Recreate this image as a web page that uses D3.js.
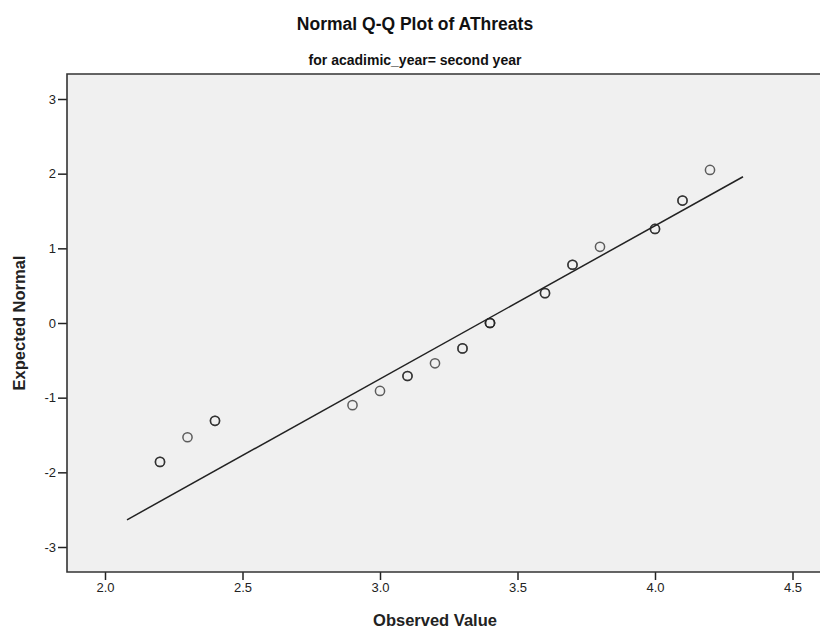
<!DOCTYPE html>
<html>
<head>
<meta charset="utf-8">
<script src="https://cdn.jsdelivr.net/npm/d3@7"></script>
<style>
  html, body { margin: 0; padding: 0; background: #fff; }
  svg { display: block; font-family: "Liberation Sans", Arial, sans-serif; }
</style>
</head>
<body>
<svg id="chart" width="820" height="633"></svg>
<script>
// Observed values of AThreats and their expected normal scores
const observed = [2.2, 2.3, 2.4, 2.9, 3.0, 3.1, 3.2, 3.3, 3.4, 3.6, 3.7, 3.8, 4.0, 4.1, 4.2];
const expectedNormal = [-1.86, -1.53, -1.31, -1.10, -0.91, -0.71, -0.54, -0.34, 0.00, 0.40, 0.78, 1.02, 1.26, 1.64, 2.05];
// number of cases sharing each observed value
const caseCounts = [2, 1, 2, 1, 1, 2, 1, 2, 3, 2, 2, 1, 2, 2, 1];

// reference line: z = (x - mean) / sd, drawn over this observed range
const lineMean = 3.365;
const lineSD = 0.4875;
const lineRange = [2.08, 4.32];

const xTicks = [2.0, 2.5, 3.0, 3.5, 4.0, 4.5];
const yTicks = [3, 2, 1, 0, -1, -2, -3];

const titleText = "Normal Q-Q Plot of AThreats";
const subtitleText = "for acadimic_year= second year";
const xLabel = "Observed Value";
const yLabel = "Expected Normal";

const svg = d3.select("#chart");

const plot = { left: 67, top: 74, right: 830, bottom: 572 };

const x = d3.scaleLinear().domain([2.0, 4.5]).range([105, 792.5]);
const y = d3.scaleLinear().domain([-3, 3]).range([547, 99]);

// plot background
svg.append("rect")
  .attr("x", plot.left).attr("y", plot.top)
  .attr("width", plot.right - plot.left).attr("height", plot.bottom - plot.top)
  .attr("fill", "#f0f0f0");

// axes (plain hyphen for negative labels)
const xAxis = svg.append("g")
  .attr("transform", `translate(0,${plot.bottom})`)
  .call(d3.axisBottom(x).tickValues(xTicks).tickFormat(d => d.toFixed(1)).tickSize(8).tickPadding(3));
const yAxis = svg.append("g")
  .attr("transform", `translate(${plot.left},0)`)
  .call(d3.axisLeft(y).tickValues(yTicks).tickFormat(d => String(d)).tickSize(9).tickPadding(2));

[xAxis, yAxis].forEach(g => {
  g.select(".domain").remove();
  g.selectAll(".tick line").attr("stroke", "#222").attr("stroke-width", 1.5);
  g.selectAll(".tick text")
    .attr("fill", "#222")
    .attr("font-size", 13)
    .attr("font-family", "'Liberation Sans', Arial, sans-serif");
});

// frame (left, top, bottom edges)
svg.append("path")
  .attr("d", `M${plot.right},${plot.top}H${plot.left}V${plot.bottom}H${plot.right}`)
  .attr("fill", "none")
  .attr("stroke", "#333")
  .attr("stroke-width", 1.6);

// reference line
svg.append("line")
  .attr("x1", x(lineRange[0])).attr("y1", y((lineRange[0] - lineMean) / lineSD))
  .attr("x2", x(lineRange[1])).attr("y2", y((lineRange[1] - lineMean) / lineSD))
  .attr("stroke", "#222")
  .attr("stroke-width", 1.5);

// points: one ring per case so repeated values overlap
const cases = [];
observed.forEach((v, i) => {
  for (let k = 0; k < caseCounts[i]; k++) cases.push({ v, z: expectedNormal[i] });
});
svg.append("g")
  .selectAll("circle")
  .data(cases)
  .join("circle")
  .attr("cx", d => x(d.v))
  .attr("cy", d => y(d.z))
  .attr("r", 4.6)
  .attr("fill", "none")
  .attr("stroke", "#222")
  .attr("stroke-opacity", 0.72)
  .attr("stroke-width", 1.5);

// titles
svg.append("text")
  .attr("x", 415).attr("y", 30)
  .attr("text-anchor", "middle")
  .attr("font-size", 17.5)
  .attr("font-weight", "bold")
  .attr("fill", "#111")
  .text(titleText);

svg.append("text")
  .attr("x", 415).attr("y", 65)
  .attr("text-anchor", "middle")
  .attr("font-size", 14)
  .attr("font-weight", "bold")
  .attr("fill", "#111")
  .text(subtitleText);

svg.append("text")
  .attr("x", 435).attr("y", 626)
  .attr("text-anchor", "middle")
  .attr("font-size", 16.5)
  .attr("font-weight", "bold")
  .attr("fill", "#222")
  .text(xLabel);

svg.append("text")
  .attr("transform", `translate(25,${y(0)}) rotate(-90)`)
  .attr("text-anchor", "middle")
  .attr("font-size", 16.5)
  .attr("font-weight", "bold")
  .attr("fill", "#222")
  .text(yLabel);
</script>
</body>
</html>
